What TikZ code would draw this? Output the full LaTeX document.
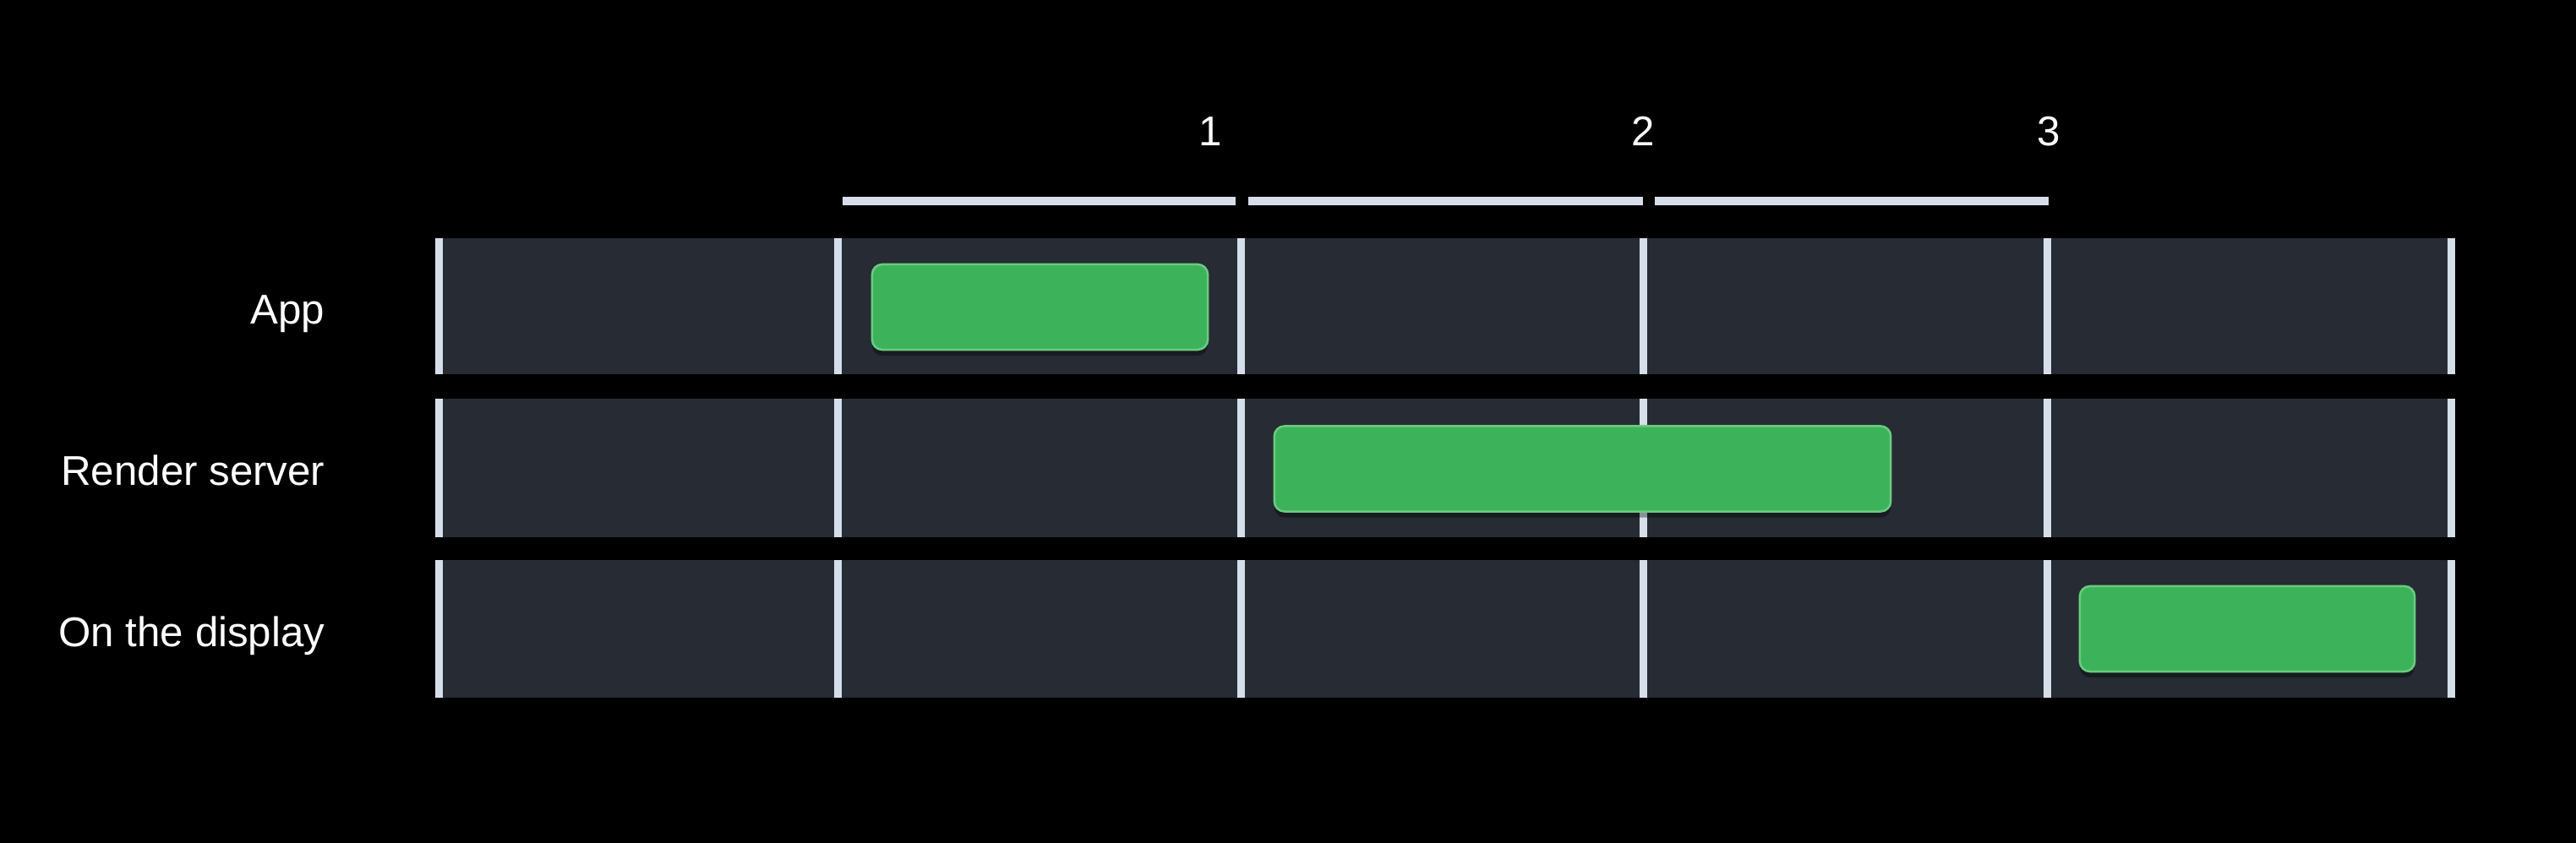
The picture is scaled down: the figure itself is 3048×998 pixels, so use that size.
\documentclass[tikz,border=0pt]{standalone}
\usepackage{fontspec}
\setmainfont{Liberation Sans}
\usetikzlibrary{shadows}
\definecolor{rowbg}{HTML}{262B34}
\definecolor{tickc}{HTML}{D5DEE9}
\definecolor{taskfill}{HTML}{3CB35A}
\definecolor{taskline}{HTML}{6CCB80}
\begin{document}
\begin{tikzpicture}[x=0.01cm,y=-0.01cm,
  lab/.style={text=white,inner sep=0pt,font=\fontsize{14pt}{16pt}\selectfont},
  rowband/.style={fill=rowbg},
  tickline/.style={draw=tickc,line width=0.09cm},
  topbar/.style={draw=tickc,line width=0.1cm},
  task/.style={draw=taskline,fill=taskfill,line width=0.025cm,rounded corners=0.12cm,
    inner sep=0pt,drop shadow={shadow xshift=0pt,shadow yshift=-2pt,opacity=0.35,fill=black}}]
\fill[black] (0,0) rectangle (3048,998);
\useasboundingbox (0,0) rectangle (3048,998);
% row bands
\foreach \t/\b in {282/443,472/636,663/826}{
  \fill[rowband] (519,\t) rectangle (2900,\b);
  \foreach \x in {519,991,1468,1944,2422,2900}{
    \draw[tickline] (\x,\t) -- (\x,\b);
  }
}
% top bars
\coordinate (b1s) at (997,238);
\coordinate (b1e) at (1462,238);
\coordinate (b2s) at (1477,238);
\coordinate (b2e) at (1944,238);
\coordinate (b3s) at (1958,238);
\coordinate (b3e) at (2424,238);
\draw[topbar] (b1s) -- (b1e);
\draw[topbar] (b2s) -- (b2e);
\draw[topbar] (b3s) -- (b3e);
% numbers
\node[lab,anchor=base] (n1) at (1432,173) {1};
\node[lab,anchor=base] (n2) at (1944,173) {2};
\node[lab,anchor=base] (n3) at (2424,173) {3};
% labels
\node[lab,anchor=base east] (lapp) at (385,384) {App};
\node[lab,anchor=base east] (lrender) at (385,575) {Render server};
\node[lab,anchor=base east] (ldisplay) at (385,766) {On the display};
% tasks
\node[task,minimum width=3.97cm,minimum height=1.01cm] (tapp) at (1230.5,363.5) {};
\node[task,minimum width=7.29cm,minimum height=1.01cm] (trender) at (1872.5,555) {};
\node[task,minimum width=3.96cm,minimum height=1.01cm] (tdisplay) at (2659,744.5) {};
\end{tikzpicture}
\end{document}
